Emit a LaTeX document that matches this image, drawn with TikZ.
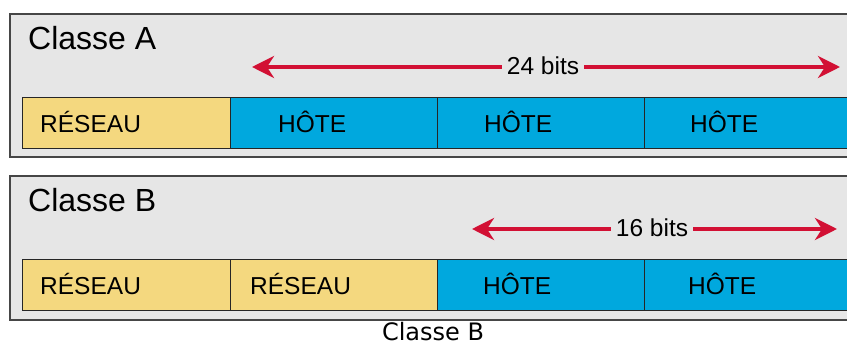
\documentclass[tikz,border=0pt]{standalone}
\usepackage{fontspec}
\setmainfont{Liberation Sans}
\newfontfamily\captionfont{DejaVu Sans}
\usetikzlibrary{arrows.meta}

\definecolor{panelgray}{RGB}{230,230,230}
\definecolor{panelline}{RGB}{70,70,70}
\definecolor{netyellow}{RGB}{244,216,127}
\definecolor{hostblue}{RGB}{0,168,222}
\definecolor{arrowred}{RGB}{210,16,52}

\tikzset{
  panel/.style={draw=panelline, line width=2pt, fill=panelgray},
  field/.style={draw=black!85, line width=1.3pt, minimum height=51pt, inner sep=0pt, anchor=north west},
  netfield/.style={field, fill=netyellow},
  hostfield/.style={field, fill=hostblue},
  fieldlabel/.style={anchor=base west, inner sep=0pt, font=\fontsize{24.5}{27}\selectfont},
  title/.style={anchor=base west, inner sep=0pt, font=\fontsize{32}{35}\selectfont},
  bitslabel/.style={inner xsep=5pt, inner ysep=0pt, font=\fontsize{24.5}{27}\selectfont},
  span/.style={draw=arrowred, line width=4pt, -{Stealth[length=22pt,width=22pt,inset=7pt]}},
}

\begin{document}
\begin{tikzpicture}[x=1pt,y=-1pt]
  \useasboundingbox (0,0) rectangle (847,347);

  % ---- class A ----
  \draw[panel] (10,14) rectangle (870,157);
  \node[title] (titleA) at (28,50) {Classe A};
  \node[netfield,  minimum width=208pt] (a1) at (22,97) {};
  \node[hostfield, minimum width=207pt] (a2) at (230,97) {};
  \node[hostfield, minimum width=207pt] (a3) at (437,97) {};
  \node[hostfield, minimum width=240pt] (a4) at (644,97) {};
  \node[fieldlabel] (la1) at (40,133) {RÉSEAU};
  \node[fieldlabel] (la2) at (278,133) {HÔTE};
  \node[fieldlabel] (la3) at (484,133) {HÔTE};
  \node[fieldlabel] (la4) at (690,133) {HÔTE};
  \node[bitslabel] (bitsA) at (543,66) {24 bits};
  \coordinate (aL) at (252,67);
  \coordinate (aR) at (840,67);
  \draw[span] (bitsA.west |- aL) -- (aL);
  \draw[span] (bitsA.east |- aR) -- (aR);

  % ---- class B ----
  \draw[panel] (10,176) rectangle (870,320);
  \node[title] (titleB) at (28,212) {Classe B};
  \node[netfield,  minimum width=208pt] (b1) at (22,259) {};
  \node[netfield,  minimum width=207pt] (b2) at (230,259) {};
  \node[hostfield, minimum width=207pt] (b3) at (437,259) {};
  \node[hostfield, minimum width=240pt] (b4) at (644,259) {};
  \node[fieldlabel] (lb1) at (40,295) {RÉSEAU};
  \node[fieldlabel] (lb2) at (250,295) {RÉSEAU};
  \node[fieldlabel] (lb3) at (483,295) {HÔTE};
  \node[fieldlabel] (lb4) at (688,295) {HÔTE};
  \node[bitslabel] (bitsB) at (652,228) {16 bits};
  \coordinate (bL) at (472,229);
  \coordinate (bR) at (837,229);
  \draw[span] (bitsB.west |- bL) -- (bL);
  \draw[span] (bitsB.east |- bR) -- (bR);

  % ---- caption ----
  \node[anchor=base, inner sep=0pt, font=\captionfont\fontsize{24}{27}\selectfont] (caption) at (433,341) {Classe B};
\end{tikzpicture}
\end{document}
